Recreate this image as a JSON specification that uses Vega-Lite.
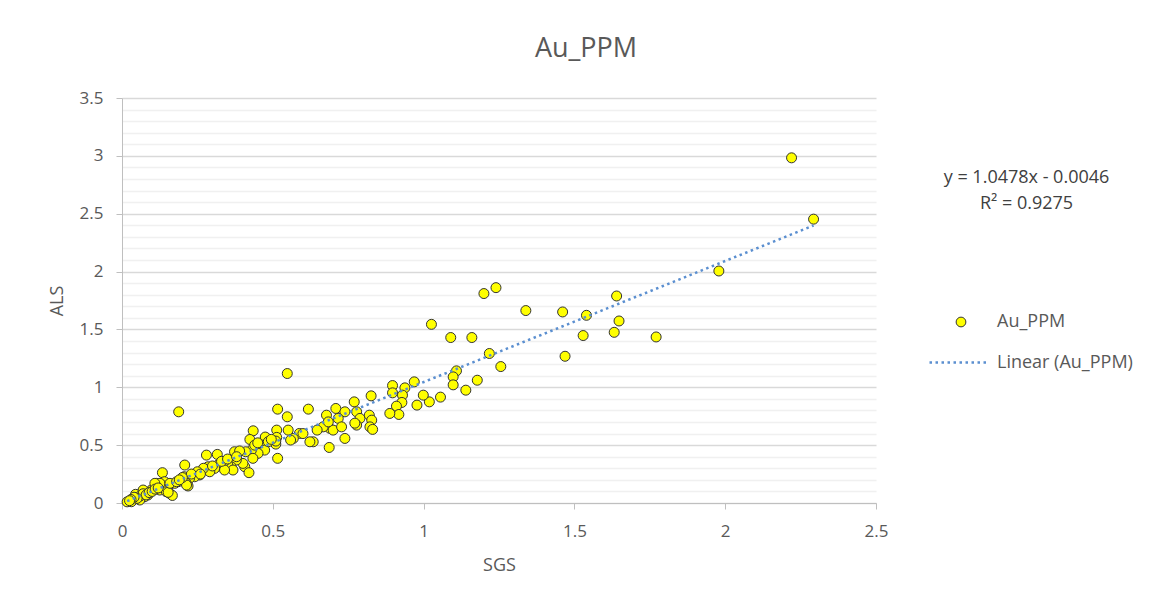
{
  "$schema": "https://vega.github.io/schema/vega-lite/v6.json",
  "width": 754,
  "height": 405,
  "autosize": {"type": "none"},
  "padding": {"left": 122, "top": 98, "right": 280, "bottom": 105},
  "background": "white",
  "config": {"font": "Open Sans", "view": {"stroke": null}},
  "title": {"text": "Au_PPM", "fontSize": 27, "fontWeight": "normal", "color": "#595959", "font": "Open Sans", "dx": 87, "offset": 26},
  "datasets": {
    "au": [
      {"SGS": 2.220, "ALS": 2.983}, {"SGS": 2.293, "ALS": 2.453}, {"SGS": 1.979, "ALS": 2.005}, {"SGS": 1.200, "ALS": 1.810},
      {"SGS": 1.240, "ALS": 1.861}, {"SGS": 1.339, "ALS": 1.663}, {"SGS": 1.461, "ALS": 1.651}, {"SGS": 1.640, "ALS": 1.789},
      {"SGS": 1.540, "ALS": 1.622}, {"SGS": 1.648, "ALS": 1.573}, {"SGS": 1.026, "ALS": 1.544}, {"SGS": 1.090, "ALS": 1.430},
      {"SGS": 1.160, "ALS": 1.430}, {"SGS": 1.632, "ALS": 1.475}, {"SGS": 1.771, "ALS": 1.435}, {"SGS": 1.529, "ALS": 1.447},
      {"SGS": 1.469, "ALS": 1.268}, {"SGS": 1.218, "ALS": 1.292}, {"SGS": 1.256, "ALS": 1.179}, {"SGS": 1.178, "ALS": 1.061},
      {"SGS": 1.140, "ALS": 0.975}, {"SGS": 1.109, "ALS": 1.142}, {"SGS": 1.098, "ALS": 1.090}, {"SGS": 1.098, "ALS": 1.021},
      {"SGS": 1.056, "ALS": 0.915}, {"SGS": 1.019, "ALS": 0.874}, {"SGS": 0.999, "ALS": 0.932}, {"SGS": 0.978, "ALS": 0.846},
      {"SGS": 0.969, "ALS": 1.047}, {"SGS": 0.938, "ALS": 0.995}, {"SGS": 0.930, "ALS": 0.932}, {"SGS": 0.928, "ALS": 0.869},
      {"SGS": 0.897, "ALS": 1.015}, {"SGS": 0.897, "ALS": 0.952}, {"SGS": 0.910, "ALS": 0.837}, {"SGS": 0.918, "ALS": 0.765},
      {"SGS": 0.888, "ALS": 0.774},
      {"SGS": 0.826, "ALS": 0.926}, {"SGS": 0.770, "ALS": 0.874}, {"SGS": 0.709, "ALS": 0.817}, {"SGS": 0.739, "ALS": 0.788},
      {"SGS": 0.678, "ALS": 0.759}, {"SGS": 0.717, "ALS": 0.731}, {"SGS": 0.778, "ALS": 0.788}, {"SGS": 0.789, "ALS": 0.731},
      {"SGS": 0.778, "ALS": 0.673}, {"SGS": 0.820, "ALS": 0.759}, {"SGS": 0.828, "ALS": 0.716}, {"SGS": 0.822, "ALS": 0.658},
      {"SGS": 0.831, "ALS": 0.636}, {"SGS": 0.678, "ALS": 0.673}, {"SGS": 0.689, "ALS": 0.645}, {"SGS": 0.667, "ALS": 0.658},
      {"SGS": 0.700, "ALS": 0.630}, {"SGS": 0.728, "ALS": 0.658}, {"SGS": 0.647, "ALS": 0.630}, {"SGS": 0.634, "ALS": 0.529},
      {"SGS": 0.623, "ALS": 0.529}, {"SGS": 0.687, "ALS": 0.480}, {"SGS": 0.739, "ALS": 0.558}, {"SGS": 0.588, "ALS": 0.601},
      {"SGS": 0.568, "ALS": 0.558}, {"SGS": 0.551, "ALS": 0.630}, {"SGS": 0.559, "ALS": 0.544}, {"SGS": 0.513, "ALS": 0.630},
      {"SGS": 0.513, "ALS": 0.567}, {"SGS": 0.510, "ALS": 0.509}, {"SGS": 0.516, "ALS": 0.386}, {"SGS": 0.516, "ALS": 0.811},
      {"SGS": 0.618, "ALS": 0.811}, {"SGS": 0.548, "ALS": 0.745}, {"SGS": 0.548, "ALS": 1.119}, {"SGS": 0.480, "ALS": 0.558},
      {"SGS": 0.468, "ALS": 0.529}, {"SGS": 0.463, "ALS": 0.492}, {"SGS": 0.446, "ALS": 0.472}, {"SGS": 0.435, "ALS": 0.624},
      {"SGS": 0.424, "ALS": 0.549}, {"SGS": 0.684, "ALS": 0.701}, {"SGS": 0.772, "ALS": 0.690}, {"SGS": 0.600, "ALS": 0.600},
      {"SGS": 0.510, "ALS": 0.535}, {"SGS": 0.475, "ALS": 0.570}, {"SGS": 0.466, "ALS": 0.500},
      {"SGS": 0.473, "ALS": 0.457}, {"SGS": 0.451, "ALS": 0.429}, {"SGS": 0.429, "ALS": 0.457}, {"SGS": 0.410, "ALS": 0.443},
      {"SGS": 0.434, "ALS": 0.386}, {"SGS": 0.407, "ALS": 0.313}, {"SGS": 0.421, "ALS": 0.262}, {"SGS": 0.401, "ALS": 0.342},
      {"SGS": 0.373, "ALS": 0.443}, {"SGS": 0.379, "ALS": 0.371}, {"SGS": 0.362, "ALS": 0.313}, {"SGS": 0.351, "ALS": 0.328},
      {"SGS": 0.368, "ALS": 0.285}, {"SGS": 0.316, "ALS": 0.420}, {"SGS": 0.338, "ALS": 0.357}, {"SGS": 0.318, "ALS": 0.328},
      {"SGS": 0.307, "ALS": 0.299}, {"SGS": 0.340, "ALS": 0.285}, {"SGS": 0.280, "ALS": 0.414}, {"SGS": 0.285, "ALS": 0.313},
      {"SGS": 0.268, "ALS": 0.285}, {"SGS": 0.291, "ALS": 0.270}, {"SGS": 0.257, "ALS": 0.242}, {"SGS": 0.249, "ALS": 0.262},
      {"SGS": 0.241, "ALS": 0.227}, {"SGS": 0.224, "ALS": 0.213}, {"SGS": 0.208, "ALS": 0.328}, {"SGS": 0.206, "ALS": 0.227},
      {"SGS": 0.213, "ALS": 0.170}, {"SGS": 0.219, "ALS": 0.147}, {"SGS": 0.186, "ALS": 0.184}, {"SGS": 0.175, "ALS": 0.170},
      {"SGS": 0.134, "ALS": 0.262}, {"SGS": 0.141, "ALS": 0.184}, {"SGS": 0.130, "ALS": 0.155}, {"SGS": 0.114, "ALS": 0.170},
      {"SGS": 0.108, "ALS": 0.127}, {"SGS": 0.125, "ALS": 0.112}, {"SGS": 0.152, "ALS": 0.135}, {"SGS": 0.158, "ALS": 0.084},
      {"SGS": 0.167, "ALS": 0.065}, {"SGS": 0.147, "ALS": 0.097}, {"SGS": 0.097, "ALS": 0.112}, {"SGS": 0.086, "ALS": 0.069},
      {"SGS": 0.075, "ALS": 0.054}, {"SGS": 0.064, "ALS": 0.084}, {"SGS": 0.053, "ALS": 0.054}, {"SGS": 0.059, "ALS": 0.026},
      {"SGS": 0.047, "ALS": 0.041}, {"SGS": 0.036, "ALS": 0.026}, {"SGS": 0.031, "ALS": 0.011}, {"SGS": 0.017, "ALS": 0.010},
      {"SGS": 0.045, "ALS": 0.075}, {"SGS": 0.070, "ALS": 0.112}, {"SGS": 0.087, "ALS": 0.084}, {"SGS": 0.126, "ALS": 0.170},
      {"SGS": 0.153, "ALS": 0.092}, {"SGS": 0.109, "ALS": 0.170}, {"SGS": 0.159, "ALS": 0.170}, {"SGS": 0.181, "ALS": 0.184},
      {"SGS": 0.214, "ALS": 0.155}, {"SGS": 0.188, "ALS": 0.788},
      {"SGS": 0.330, "ALS": 0.360}, {"SGS": 0.350, "ALS": 0.380}, {"SGS": 0.390, "ALS": 0.450}, {"SGS": 0.380, "ALS": 0.400},
      {"SGS": 0.270, "ALS": 0.300}, {"SGS": 0.250, "ALS": 0.270}, {"SGS": 0.230, "ALS": 0.250}, {"SGS": 0.200, "ALS": 0.220},
      {"SGS": 0.190, "ALS": 0.200}, {"SGS": 0.260, "ALS": 0.250}, {"SGS": 0.300, "ALS": 0.320}, {"SGS": 0.440, "ALS": 0.500},
      {"SGS": 0.450, "ALS": 0.520}, {"SGS": 0.485, "ALS": 0.530}, {"SGS": 0.495, "ALS": 0.550}, {"SGS": 0.060, "ALS": 0.060},
      {"SGS": 0.070, "ALS": 0.080}, {"SGS": 0.080, "ALS": 0.070}, {"SGS": 0.090, "ALS": 0.090}, {"SGS": 0.100, "ALS": 0.100},
      {"SGS": 0.110, "ALS": 0.120}, {"SGS": 0.120, "ALS": 0.130}, {"SGS": 0.050, "ALS": 0.040}, {"SGS": 0.040, "ALS": 0.050},
      {"SGS": 0.030, "ALS": 0.030}, {"SGS": 0.025, "ALS": 0.020}
    ]
  },
  "layer": [
    {
      "data": {"name": "au"},
      "mark": {"type": "point", "filled": true, "size": 100, "stroke": "#333333", "strokeWidth": 1, "opacity": 1},
      "encoding": {
        "x": {
          "field": "SGS", "type": "quantitative",
          "scale": {"domain": [0, 2.5], "nice": false, "zero": false},
          "axis": {
            "values": [0, 0.5, 1, 1.5, 2, 2.5], "tickCount": 10, "grid": false,
            "domainColor": "#bfbfbf", "tickColor": "#bfbfbf", "tickSize": 6,
            "labelFontSize": 17, "labelColor": "#595959", "labelPadding": 14, "labelFlush": false, "labelOverlap": false,
            "format": "~g",
            "title": "SGS", "titleFontSize": 18, "titleColor": "#595959", "titleFontWeight": "normal", "titlePadding": 17
          }
        },
        "y": {
          "field": "ALS", "type": "quantitative",
          "scale": {"domain": [0, 3.5], "nice": false, "zero": false},
          "axis": {
            "values": [0, 0.1, 0.2, 0.3, 0.4, 0.5, 0.6, 0.7, 0.8, 0.9, 1, 1.1, 1.2, 1.3, 1.4, 1.5, 1.6, 1.7, 1.8, 1.9, 2, 2.1, 2.2, 2.3, 2.4, 2.5, 2.6, 2.7, 2.8, 2.9, 3, 3.1, 3.2, 3.3, 3.4, 3.5],
            "tickCount": 60,
            "grid": true,
            "gridColor": {"condition": {"test": "abs(datum.value * 2 - round(datum.value * 2)) < 0.001", "value": "#d9d9d9"}, "value": "#f0f0f0"},
            "gridWidth": 1.3,
            "tickColor": {"condition": {"test": "abs(datum.value * 2 - round(datum.value * 2)) < 0.001", "value": "#bfbfbf"}, "value": "transparent"},
            "tickSize": 6,
            "domainColor": "#bfbfbf",
            "labelExpr": "abs(datum.value * 2 - round(datum.value * 2)) < 0.001 ? format(datum.value, '~g') : ''",
            "labelFontSize": 17, "labelColor": "#595959", "labelPadding": 13, "labelOverlap": false, "labelFlush": false,
            "title": "ALS", "titleFontSize": 18, "titleColor": "#595959", "titleFontWeight": "normal", "titlePadding": 13
          }
        },
        "fill": {
          "datum": "Au_PPM", "type": "nominal",
          "scale": {"domain": ["Au_PPM"], "range": ["#ffff00"]},
          "legend": {
            "title": null, "orient": "none", "legendX": 830, "legendY": 215, "padding": 0,
            "symbolType": "circle", "symbolSize": 95, "symbolStrokeColor": "#333333", "symbolStrokeWidth": 1,
            "labelFontSize": 18, "labelColor": "#595959", "labelOffset": 27
          }
        }
      }
    },
    {
      "data": {"name": "au"},
      "transform": [{"regression": "ALS", "on": "SGS"}],
      "mark": {"type": "line", "strokeWidth": 2.5, "strokeDash": [2.5, 3.5]},
      "encoding": {
        "x": {"field": "SGS", "type": "quantitative"},
        "y": {"field": "ALS", "type": "quantitative"},
        "stroke": {
          "datum": "Linear (Au_PPM)", "type": "nominal",
          "scale": {"domain": ["Linear (Au_PPM)"], "range": ["#5b8fd0"]},
          "legend": {
            "title": null, "orient": "none", "legendX": 806, "legendY": 234.5, "padding": 0,
            "symbolType": "stroke", "symbolSize": 3249, "symbolStrokeWidth": 2.5, "symbolDash": [2.5, 3.5],
            "labelFontSize": 18, "labelColor": "#595959", "labelOffset": 9
          }
        }
      }
    },
    {
      "data": {"values": [{"label": ["y = 1.0478x - 0.0046", "R² = 0.9275"], "SGS": 2.999, "ALS": 2.81}]},
      "mark": {"type": "text", "fontSize": 18, "color": "#404040", "lineHeight": 26, "align": "center", "baseline": "middle"},
      "encoding": {
        "x": {"field": "SGS", "type": "quantitative"},
        "y": {"field": "ALS", "type": "quantitative"},
        "text": {"field": "label"}
      }
    }
  ]
}
